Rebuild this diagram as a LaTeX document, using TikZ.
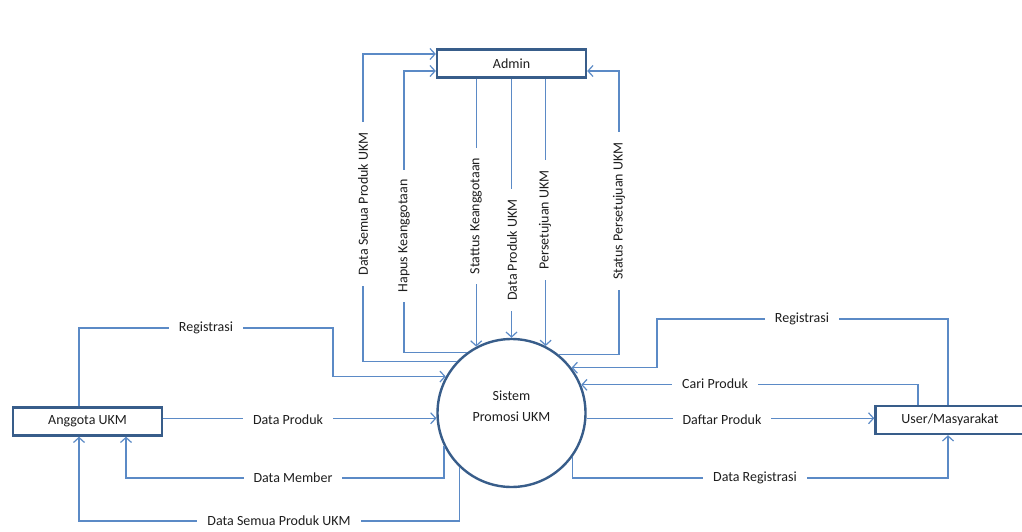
\documentclass[tikz,border=0pt]{standalone}
\usepackage{fontspec}
\setmainfont{Carlito}
\usetikzlibrary{arrows.meta}
\definecolor{lnblue}{RGB}{91,138,198}
\definecolor{bdblue}{RGB}{56,93,138}
\definecolor{txt}{RGB}{30,30,30}
\begin{document}
\begin{tikzpicture}[x=1pt,y=-1pt,
  ent/.style={draw=bdblue, line width=2.4pt, fill=white, minimum width=149pt, minimum height=28pt, inner sep=0pt, font=\fontsize{14}{16}\selectfont, text=txt},
  proc/.style={circle, draw=bdblue, line width=2.4pt, minimum size=148pt, inner sep=0pt},
  proctext/.style={align=center, inner sep=0pt, font=\fontsize{14}{21}\selectfont, text=txt},
  arr/.style={draw=lnblue, line width=1.2pt, -{Straight Barb[length=5pt,width=11pt,line width=1.2pt]}},
  lbl/.style={fill=white, inner xsep=10pt, inner ysep=2pt, font=\fontsize{14}{16}\selectfont, text=txt},
  vlbl/.style={lbl, rotate=90}
]
\useasboundingbox (0,0) rectangle (1022,532);
\fill[white] (0,0) rectangle (1022,532);

% entities
\node[ent] (admin) at (511.5,63.5) {Admin};
\node[proc] (sys) at (511.5,413) {};
\node[proctext] (systxt) at ([yshift=7pt]sys.center) {Sistem\\Promosi UKM};
\node[ent] (ang) at (87.5,421.5) {Anggota UKM};
\node[ent] (usr) at (950,420) {User/Masyarakat};

% helper coordinates
\coordinate (k1) at (363,54);
\coordinate (k2) at (404,71);
\coordinate (k6) at (619,71);
\coordinate (r1) at (948,319);
\coordinate (r2) at (657,319);
\coordinate (cp) at (918,384);
\coordinate (dr) at (948,478);
\coordinate (rl1) at (79,328);
\coordinate (rl2) at (333,328);
\coordinate (dm) at (126,478);
\coordinate (ds) at (79,521);

% admin connectors
\draw[arr] (sys.137.8) -| (k1) -- (k1 -| admin.west);
\draw[arr] (sys.126.4) -| (k2) -- (k2 -| admin.west);
\draw[arr] (admin.south -| sys.118.5) -- (sys.118.5);
\draw[arr] (admin.south) -- (sys.north);
\draw[arr] (admin.south -| sys.63.3) -- (sys.63.3);
\draw[arr] (sys.51.1) -| (k6) -- (k6 -| admin.east);

% user connectors
\draw[arr] (usr.north -| r1) -- (r1) -- (r2) |- (sys.37.2);
\draw[arr] (usr.north -| cp) |- (sys.22.9);
\draw[arr] (sys.-4.6) -- (sys.-4.6 -| usr.west);
\draw[arr] (sys.324.3) |- (dr) -- (usr.south -| dr);

% anggota connectors
\draw[arr] (ang.north -| rl1) -- (rl1) -- (rl2) |- (sys.151.1);
\draw[arr] (sys.184.6 -| ang.east) -- (sys.184.6);
\draw[arr] (sys.206.8) |- (dm) -- (ang.south -| dm);
\draw[arr] (sys.226.3) |- (ds) -- (ang.south -| ds);

% labels
\node[vlbl] (l1) at (363,204) {Data Semua Produk UKM};
\node[vlbl] (l2) at (404,236) {Hapus Keanggotaan};
\node[vlbl] (l3) at (476,216) {Stattus Keanggotaan};
\node[vlbl] (l4) at (512,250) {Data Produk UKM};
\node[vlbl] (l5) at (545,220) {Persetujuan UKM};
\node[vlbl] (l6) at (619,211) {Status Persetujuan UKM};

\node[lbl] (l7) at (802,319) {Registrasi};
\node[lbl] (l8) at (715,384) {Cari Produk};
\node[lbl] (l9) at (722,420) {Daftar Produk};
\node[lbl] (l10) at (755,478) {Data Registrasi};

\node[lbl] (l11) at (206,328) {Registrasi};
\node[lbl] (l12) at (288,420) {Data Produk};
\node[lbl] (l13) at (293,478) {Data Member};
\node[lbl] (l14) at (279,521) {Data Semua Produk UKM};
\end{tikzpicture}
\end{document}
